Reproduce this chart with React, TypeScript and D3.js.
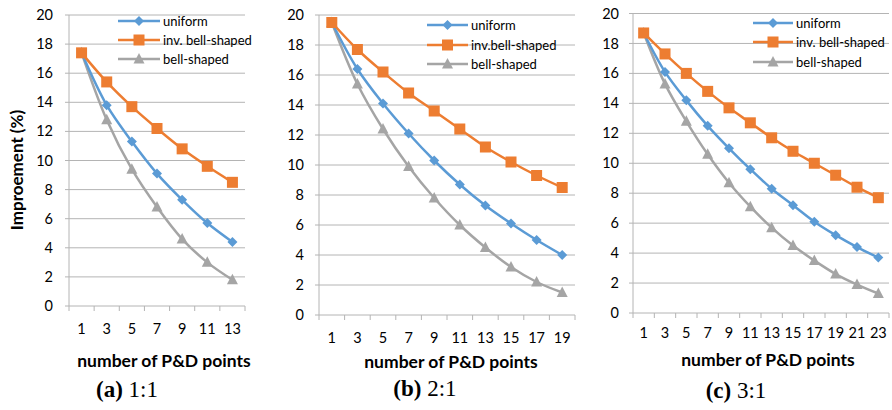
import React from "react";
import * as d3 from "d3";

// ---------- data ----------
const seriesNames = ["uniform", "inv. bell-shaped", "bell-shaped"];
const seriesNamesB = ["uniform", "inv.bell-shaped", "bell-shaped"];
const yTicks = [0, 2, 4, 6, 8, 10, 12, 14, 16, 18, 20];

const catsA = ["1", "3", "5", "7", "9", "11", "13"];
const uniformA = [17.4, 13.8, 11.3, 9.1, 7.3, 5.7, 4.4];
const invBellA = [17.4, 15.4, 13.7, 12.2, 10.8, 9.6, 8.5];
const bellA = [17.4, 12.8, 9.4, 6.8, 4.6, 3.0, 1.8];

const catsB = ["1", "3", "5", "7", "9", "11", "13", "15", "17", "19"];
const uniformB = [19.5, 16.4, 14.1, 12.1, 10.3, 8.7, 7.3, 6.1, 5.0, 4.0];
const invBellB = [19.5, 17.7, 16.2, 14.8, 13.6, 12.4, 11.2, 10.2, 9.3, 8.5];
const bellB = [19.5, 15.4, 12.4, 9.9, 7.8, 6.0, 4.5, 3.2, 2.2, 1.5];

const catsC = ["1", "3", "5", "7", "9", "11", "13", "15", "17", "19", "21", "23"];
const uniformC = [18.7, 16.1, 14.2, 12.5, 11.0, 9.6, 8.3, 7.2, 6.1, 5.2, 4.4, 3.7];
const invBellC = [18.7, 17.3, 16.0, 14.8, 13.7, 12.7, 11.7, 10.8, 10.0, 9.2, 8.4, 7.7];
const bellC = [18.7, 15.3, 12.8, 10.6, 8.7, 7.1, 5.7, 4.5, 3.5, 2.6, 1.9, 1.3];

const yTitle = "Improement (%)";
const xTitle = "number of P&D points";
const captionsBold = ["(a)", "(b)", "(c)"];
const captionsRest = ["1:1", "2:1", "3:1"];

// ---------- styles ----------
const COLORS = ["#5b9bd5", "#ed7d31", "#a5a5a5"];
const FONT = "Lato, 'Open Sans', sans-serif";
const GRID = "#b4b4b4";

type Layout = {
  left: number; right: number; top: number; bottom: number;
  yLabelRight: number; xLabelY: number; xTitleX: number; xTitleY: number;
  capX: number; capY: number; legX0: number; legX1: number; legRows: number[];
  showYTitle: boolean;
};

const layouts: Layout[] = [
  { left: 69, right: 245, top: 15, bottom: 306, yLabelRight: 53, xLabelY: 334, xTitleX: 164, xTitleY: 367, capX: 127, capY: 397, legX0: 118, legX1: 160, legRows: [21, 40, 59], showYTitle: true },
  { left: 319, right: 575, top: 15, bottom: 315, yLabelRight: 304, xLabelY: 343, xTitleX: 451, xTitleY: 368, capX: 425, capY: 396, legX0: 427, legX1: 468, legRows: [25, 45, 64], showYTitle: false },
  { left: 633, right: 889, top: 13.5, bottom: 313, yLabelRight: 619, xLabelY: 338, xTitleX: 768, xTitleY: 366, capX: 736, capY: 398, legX0: 753, legX1: 793, legRows: [23, 42, 62], showYTitle: false },
];

function Marker({ kind, x, y, color }: { kind: number; x: number; y: number; color: string }) {
  if (kind === 0) {
    const r = 5;
    return <path d={`M${x},${y - r}L${x + r},${y}L${x},${y + r}L${x - r},${y}Z`} fill={color} />;
  }
  if (kind === 1) {
    const s = 5.5;
    return <rect x={x - s} y={y - s} width={2 * s} height={2 * s} fill={color} />;
  }
  const h = 5.5;
  return <path d={`M${x},${y - h - 0.5}L${x + h},${y + h - 1}L${x - h},${y + h - 1}Z`} fill={color} />;
}

function Panel({ lay, cats, series, names, idx }: { lay: Layout; cats: string[]; series: number[][]; names: string[]; idx: number }) {
  const x = d3.scaleBand<string>().domain(cats).range([lay.left, lay.right]).padding(0);
  const y = d3.scaleLinear().domain([0, 20]).range([lay.bottom, lay.top]);
  const line = d3
    .line<number>()
    .x((_, i) => (x(cats[i]) as number) + x.bandwidth() / 2)
    .y((d) => y(d))
    .curve(d3.curveCatmullRom.alpha(0.5));
  const bounds = cats.map((c) => x(c) as number).concat([lay.right]);
  const drawOrder = [2, 0, 1];
  return (
    <g>
      {yTicks.map((t) => (
        <g key={t}>
          <line x1={lay.left - 4} x2={lay.right} y1={y(t)} y2={y(t)} stroke={GRID} strokeWidth={1} />
          <text x={lay.yLabelRight} y={y(t)} dy="0.35em" textAnchor="end" fontSize={14.5} fontFamily={FONT} fill="#000">
            {t}
          </text>
        </g>
      ))}
      <line x1={lay.left} x2={lay.left} y1={lay.top} y2={lay.bottom} stroke={GRID} strokeWidth={1} />
      {bounds.map((b, i) => (
        <line key={i} x1={b} x2={b} y1={lay.bottom} y2={lay.bottom + 5} stroke={GRID} strokeWidth={1} />
      ))}
      {cats.map((c) => (
        <text key={c} x={(x(c) as number) + x.bandwidth() / 2} y={lay.xLabelY} textAnchor="middle" fontSize={14.5} fontFamily={FONT} fill="#000">
          {c}
        </text>
      ))}
      {drawOrder.map((si) => (
        <g key={si}>
          <path d={line(series[si]) || ""} fill="none" stroke={COLORS[si]} strokeWidth={2.5} />
          {series[si].map((v, i) => (
            <Marker key={i} kind={si} x={(x(cats[i]) as number) + x.bandwidth() / 2} y={y(v)} color={COLORS[si]} />
          ))}
        </g>
      ))}
      {names.map((n, i) => (
        <g key={n}>
          <line x1={lay.legX0} x2={lay.legX1} y1={lay.legRows[i]} y2={lay.legRows[i]} stroke={COLORS[i]} strokeWidth={2.5} />
          <Marker kind={i} x={(lay.legX0 + lay.legX1) / 2} y={lay.legRows[i]} color={COLORS[i]} />
          <text x={lay.legX1 + 3} y={lay.legRows[i]} dy="0.35em" fontSize={13} fontFamily={FONT} fill="#000">
            {n}
          </text>
        </g>
      ))}
      <text x={lay.xTitleX} y={lay.xTitleY} textAnchor="middle" fontSize={17.5} fontWeight="bold" fontFamily={FONT} fill="#000">
        {xTitle}
      </text>
      {lay.showYTitle && (
        <text
          transform={`translate(${23},${170}) rotate(-90)`}
          textAnchor="middle"
          fontSize={17}
          fontWeight="bold"
          fontFamily={FONT}
          fill="#000"
        >
          {yTitle}
        </text>
      )}
      <text x={lay.capX} y={lay.capY} textAnchor="middle" fontSize={23} fontFamily="'Liberation Serif', 'Times New Roman', serif" fill="#000">
        <tspan fontWeight="bold">{captionsBold[idx]}</tspan>
        <tspan> {captionsRest[idx]}</tspan>
      </text>
    </g>
  );
}

export default function App() {
  return (
    <svg width={892} height={410} style={{ position: "absolute", left: 0, top: 0, background: "#fff" }}>
      <rect width={892} height={410} fill="#fff" />
      <Panel lay={layouts[0]} cats={catsA} series={[uniformA, invBellA, bellA]} names={seriesNames} idx={0} />
      <Panel lay={layouts[1]} cats={catsB} series={[uniformB, invBellB, bellB]} names={seriesNamesB} idx={1} />
      <Panel lay={layouts[2]} cats={catsC} series={[uniformC, invBellC, bellC]} names={seriesNames} idx={2} />
    </svg>
  );
}
